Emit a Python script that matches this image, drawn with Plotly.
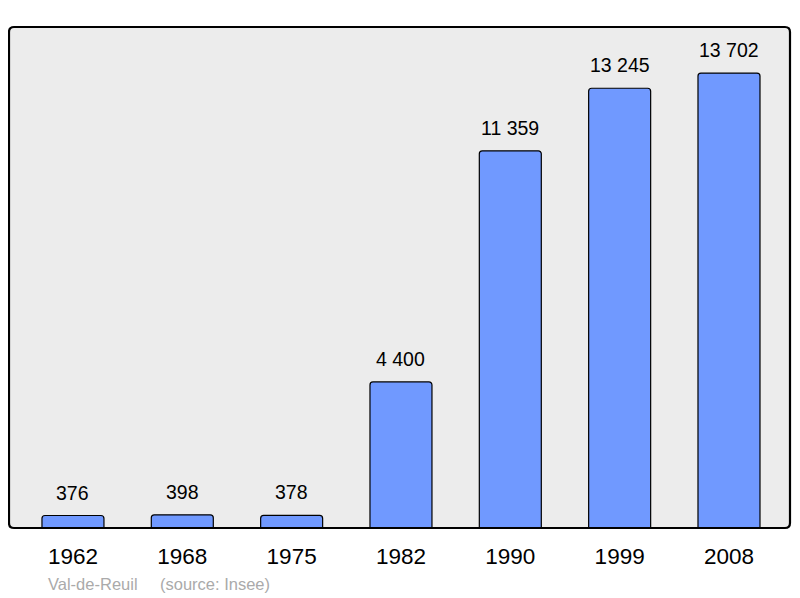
import plotly.graph_objects as go

years = ["1962", "1968", "1975", "1982", "1990", "1999", "2008"]
population = [376, 398, 378, 4400, 11359, 13245, 13702]
value_labels = ["376", "398", "378", "4 400", "11 359", "13 245", "13 702"]

# page body has an 8px margin; compensate so the plot lands where the reference has it
W, H = 792, 590
ML, MT, MR, MB = 1, 19, 10, 70
PW, PH = W - ML - MR, H - MT - MB

fig = go.Figure()
fig.add_trace(go.Bar(
    x=list(range(len(years))), y=population,
    width=0.567,
    marker=dict(color="#7099ff", line=dict(color="#000000", width=1.2), cornerradius=3),
    hoverinfo="skip",
))

for i, (v, lab) in enumerate(zip(population, value_labels)):
    fig.add_annotation(x=i, y=v, text=lab, showarrow=False, yanchor="bottom",
                       yshift=10, font=dict(size=19.5, color="#000000"))

fig.add_annotation(xref="paper", yref="paper", x=(46 - 9) / PW, y=-(584 - 528) / PH,
                   text="Val-de-Reuil", showarrow=False,
                   xanchor="left", yanchor="middle", font=dict(size=16.5, color="#aaaaaa"))
fig.add_annotation(xref="paper", yref="paper", x=(158 - 9) / PW, y=-(584 - 528) / PH,
                   text="(source: Insee)", showarrow=False,
                   xanchor="left", yanchor="middle", font=dict(size=16.5, color="#aaaaaa"))

rx, ry = 5 / PW, 5 / PH
path = (f"M {rx},0 L {1-rx},0 Q 1,0 1,{ry} L 1,{1-ry} Q 1,1 {1-rx},1 "
        f"L {rx},1 Q 0,1 0,{1-ry} L 0,{ry} Q 0,0 {rx},0 Z")
fig.add_shape(type="path", xref="paper", yref="paper", path=path,
              line=dict(color="#000000", width=2.2), layer="above")

fig.update_layout(
    width=W, height=H,
    margin=dict(l=ML, r=MR, t=MT, b=MB, pad=0),
    paper_bgcolor="#ffffff", plot_bgcolor="#ececec",
    font=dict(family="Liberation Sans, Arial, sans-serif", color="#000000"),
    showlegend=False,
    xaxis=dict(tickmode="array", tickvals=list(range(len(years))), ticktext=years,
               range=[-0.585, 6.558], showgrid=False, zeroline=False,
               tickfont=dict(size=22.5), ticks="", ticklabelstandoff=12),
    yaxis=dict(range=[0, 15090], showgrid=False, zeroline=False, showticklabels=False, ticks=""),
)

fig.write_html("out.html")
